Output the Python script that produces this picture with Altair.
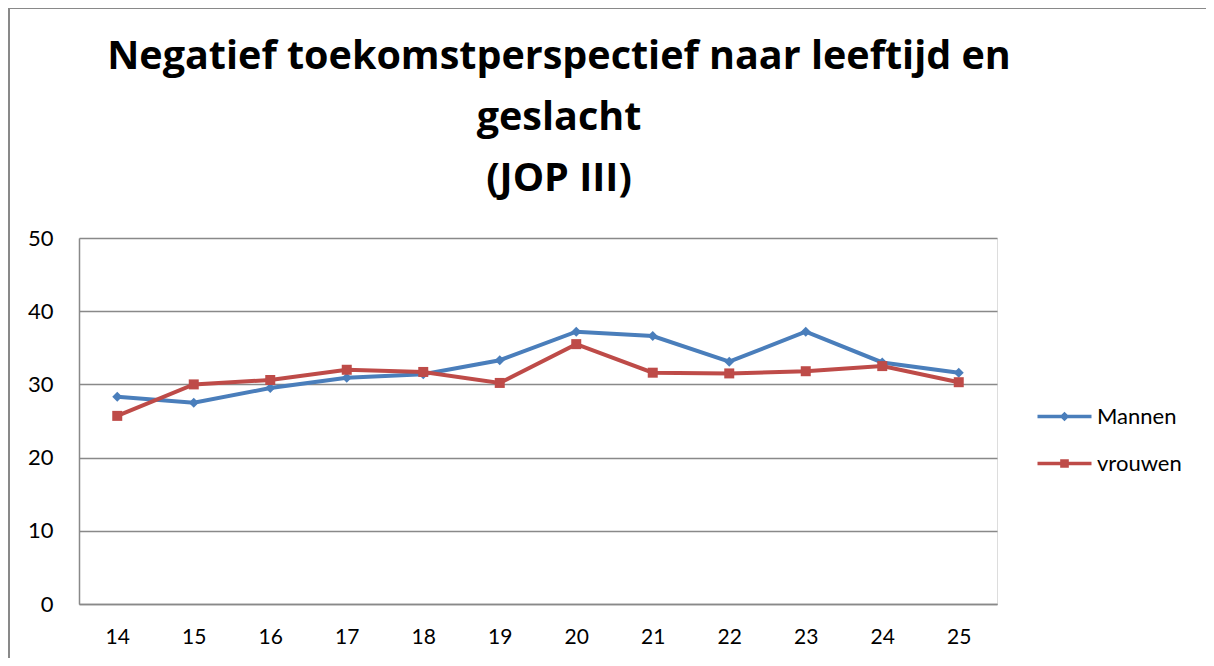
import altair as alt
import pandas as pd

ages = [14, 15, 16, 17, 18, 19, 20, 21, 22, 23, 24, 25]
mannen = [28.3, 27.5, 29.5, 30.9, 31.4, 33.3, 37.2, 36.6, 33.1, 37.2, 33.0, 31.6]
vrouwen = [25.7, 30.0, 30.6, 32.0, 31.7, 30.2, 35.5, 31.6, 31.5, 31.8, 32.5, 30.3]
series_names = ["Mannen", "vrouwen"]
series_colors = ["#4A7EBB", "#BE4B48"]
y_ticks = [0, 10, 20, 30, 40, 50]
title_lines = ["Negatief toekomstperspectief naar leeftijd en", "geslacht", "(JOP III)"]

rows = []
for a, v in zip(ages, mannen):
    rows.append({"age": a, "value": v, "series": "Mannen"})
for a, v in zip(ages, vrouwen):
    rows.append({"age": a, "value": v, "series": "vrouwen"})
df = pd.DataFrame(rows)

FONT = "Lato"
TITLE_FONT = "Open Sans"
GRID = "#898989"

# legend symbols: line segment + marker (custom SVG paths)
legend_paths = [
    "M-2,-0.13H2V0.13H-2Z M0,-0.36L0.36,0L0,0.36L-0.36,0Z",
    "M-2,-0.13H2V0.13H-2Z M-0.32,-0.32H0.32V0.32H-0.32Z",
]

x_enc = alt.X(
    "age:O",
    scale=alt.Scale(type="point", padding=0.5),
    axis=alt.Axis(title=None, labelAngle=0, ticks=False, grid=False,
                  domainColor=GRID, domainWidth=1.5, labelFontSize=21,
                  labelFont=FONT, labelColor="#000000", labelPadding=22),
)
y_enc = alt.Y(
    "value:Q",
    scale=alt.Scale(domain=[0, 50], nice=False, zero=True),
    axis=alt.Axis(title=None, values=y_ticks, ticks=False, grid=True,
                  gridColor=GRID, gridWidth=1.5, domainColor=GRID, domainWidth=1.5,
                  labelFontSize=22, labelFont=FONT, labelColor="#000000",
                  labelPadding=26),
)
color_scale = alt.Scale(domain=series_names, range=series_colors)
color_nolegend = alt.Color("series:N", scale=color_scale, legend=None)

base = alt.Chart(df)

leg = alt.Legend(
    title=None, orient="none", legendX=972, legendY=165,
    labelFont=FONT, labelFontSize=22, labelColor="#000000",
    symbolSize=729, labelOffset=19, rowPadding=22, symbolOpacity=1,
    symbolStrokeWidth=0,
)
legend_layer = base.mark_point(filled=True, opacity=0).encode(
    x=x_enc, y=y_enc,
    color=alt.Color("series:N", scale=color_scale, legend=leg),
    shape=alt.Shape("series:N", scale=alt.Scale(domain=series_names, range=legend_paths), legend=leg),
)

lines = base.mark_line(strokeWidth=4).encode(x=x_enc, y=y_enc, color=color_nolegend, detail="series:N")

pts_m = base.transform_filter(alt.datum.series == "Mannen").mark_point(
    shape="diamond", filled=True, size=100, opacity=1
).encode(x=x_enc, y=y_enc, color=color_nolegend)

pts_v = base.transform_filter(alt.datum.series == "vrouwen").mark_point(
    shape="square", filled=True, size=100, opacity=1
).encode(x=x_enc, y=y_enc, color=color_nolegend)

frame_df = pd.DataFrame({"k": [0]})
frame_left = alt.Chart(frame_df).mark_rule(color=GRID, strokeWidth=2).encode(
    x=alt.value(-70), y=alt.value(-230), y2=alt.value(440)
)
frame_top = alt.Chart(frame_df).mark_rule(color=GRID, strokeWidth=2).encode(
    x=alt.value(-70), x2=alt.value(1140), y=alt.value(-230)
)

chart = alt.layer(legend_layer, frame_left, frame_top, lines, pts_m, pts_v).properties(
    width=918,
    height=366,
    title=alt.Title(
        text=title_lines, anchor="middle", dx=21, offset=-192,
        font=TITLE_FONT, fontSize=39.5, fontWeight="bold", color="#000000", lineHeight=61,
    ),
    autosize=alt.AutoSizeParams(type="none"),
    padding={"left": 71, "top": 230, "right": 209, "bottom": 54},
).configure_view(stroke=None).configure(background="#ffffff")

chart.save("out.html", embed_options={"renderer": "svg", "actions": False})
